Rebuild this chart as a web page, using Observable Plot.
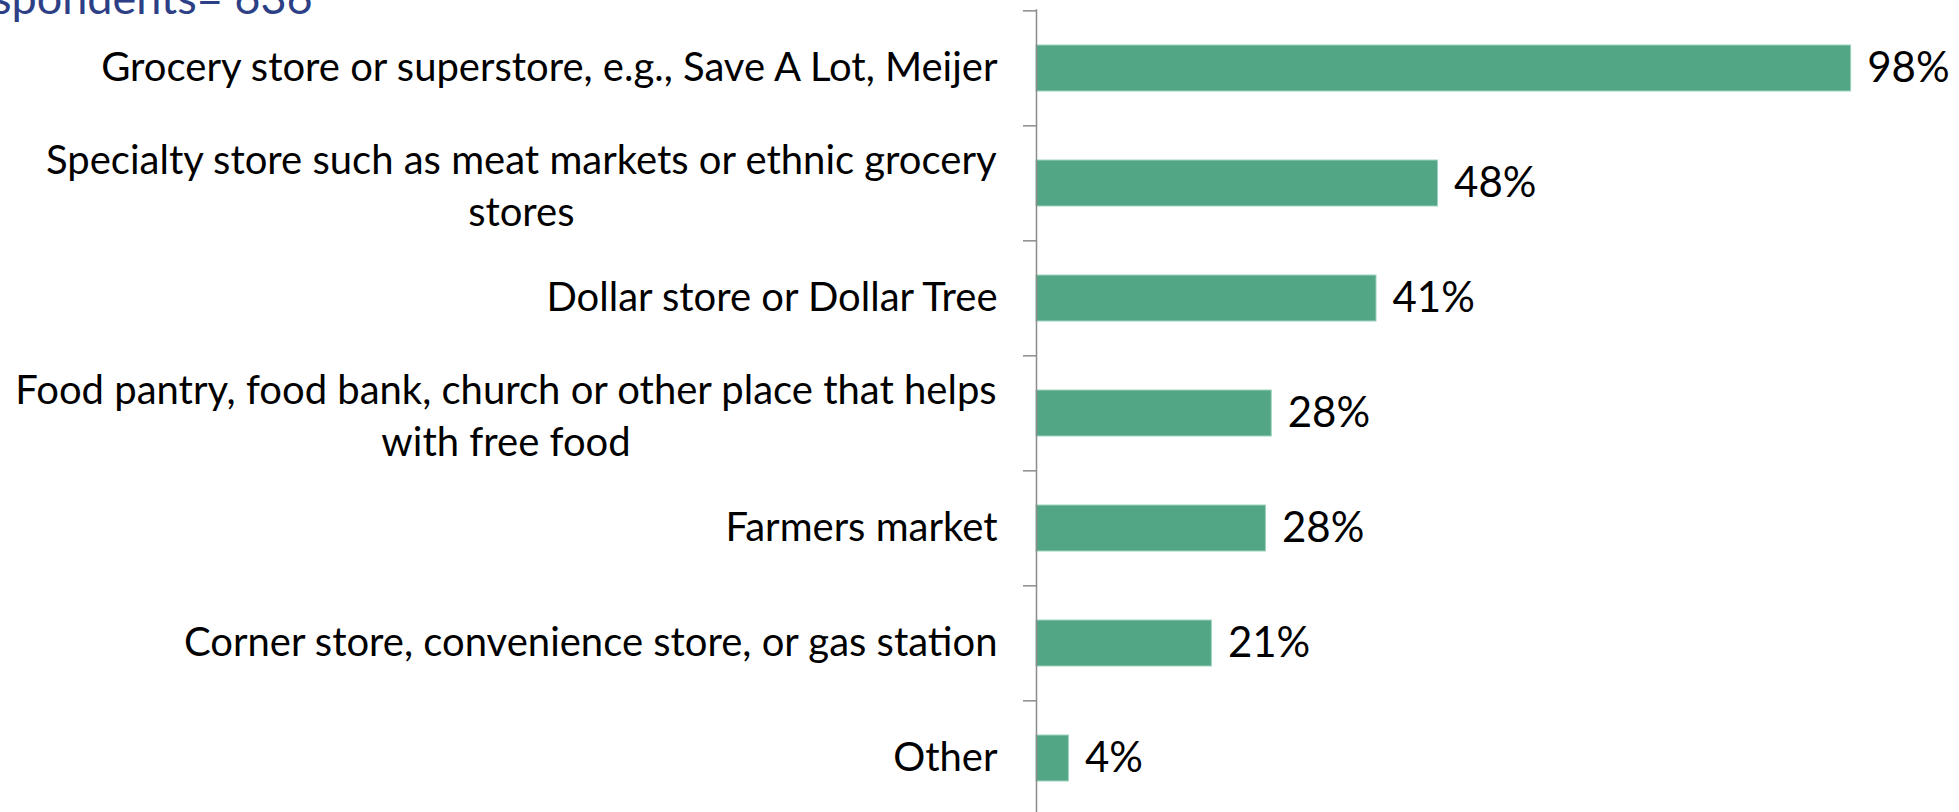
<!DOCTYPE html>
<html><head><meta charset="utf-8">
<script src="https://cdn.jsdelivr.net/npm/d3@7"></script>
<script src="https://cdn.jsdelivr.net/npm/@observablehq/plot@0.6"></script>
<style>
html,body{margin:0;padding:0;background:#fff;overflow:hidden;}
#wrap{position:relative;width:1959px;height:812px;overflow:hidden;}
#title{position:absolute;left:-8px;top:-25px;font-family:Lato,sans-serif;font-size:45px;line-height:45px;color:#2d3f85;white-space:nowrap;}
</style></head><body>
<div id="wrap"><div id="chart"></div><div id="title">spondents= 636</div></div>
<script>
const categories = [
  "Grocery store or superstore, e.g., Save A Lot, Meijer",
  "Specialty store such as meat markets or ethnic grocery\nstores",
  "Dollar store or Dollar Tree",
  "Food pantry, food bank, church or other place that helps\nwith free food",
  "Farmers market",
  "Corner store, convenience store, or gas station",
  "Other"
];
const values = [98, 48.3, 40.9, 28.3, 27.6, 21.1, 3.9];

(async function(){
  const fontFamily = "Lato";
  const catFont = 40, valFont = 42;
  try { await document.fonts.load(`${catFont}px ${fontFamily}`); } catch(e) {}
  const data = categories.map((c, i) => ({category: c, value: values[i]}));
  const fmt = v => d3.format(".0f")(v) + "%";

  const xRange = [1036, 1867.3];
  const yRange = [9.3, 816.7];
  const pxPerUnit = (xRange[1] - xRange[0]) / 100;
  const step = (yRange[1] - yRange[0]) / categories.length;
  const labelGap = 39, tickLen = 13;

  const ctx = document.createElement("canvas").getContext("2d");
  ctx.font = `${catFont}px ${fontFamily}`;
  const widthOf = s => Math.max(...s.split("\n").map(l => ctx.measureText(l).width));

  const single = data.filter(d => !d.category.includes("\n"));
  const multi = data.filter(d => d.category.includes("\n"));

  const marks = [
    Plot.barX(data, {x: "value", y: "category", fill: "#52a685", stroke: "#9fd3bd", strokeWidth: 1}),
    Plot.ruleX([0], {stroke: "#8c8c8c", strokeWidth: 1.5}),
    Plot.ruleY(categories, {y: d => d, dy: -step / 2, x1: -tickLen / pxPerUnit, x2: 0, stroke: "#8c8c8c", strokeWidth: 1.5}),
    Plot.text(data, {x: "value", y: "category", text: d => fmt(d.value), textAnchor: "start", dx: 16, fontSize: valFont, fill: "#000"}),
    Plot.text(single, {x: () => 0, y: "category", text: "category", textAnchor: "end", dx: -labelGap, fontSize: catFont, fill: "#000"})
  ];
  for (const d of multi) {
    const w = widthOf(d.category);
    marks.push(Plot.text([d], {x: () => 0, y: "category", text: "category", textAnchor: "middle", dx: -labelGap - w / 2, fontSize: catFont, lineHeight: 51.7 / catFont, fill: "#000"}));
  }

  const chart = Plot.plot({
    width: 1959, height: 812,
    marginLeft: 0, marginRight: 0, marginTop: 9.3, marginBottom: 0,
    style: {fontFamily, background: "#fff"},
    x: {domain: [0, 100], range: xRange, axis: null},
    y: {domain: categories, range: yRange, paddingInner: 0.6, paddingOuter: 0.3, axis: null},
    marks
  });
  document.getElementById("chart").appendChild(chart);
})();
</script>
</body></html>
